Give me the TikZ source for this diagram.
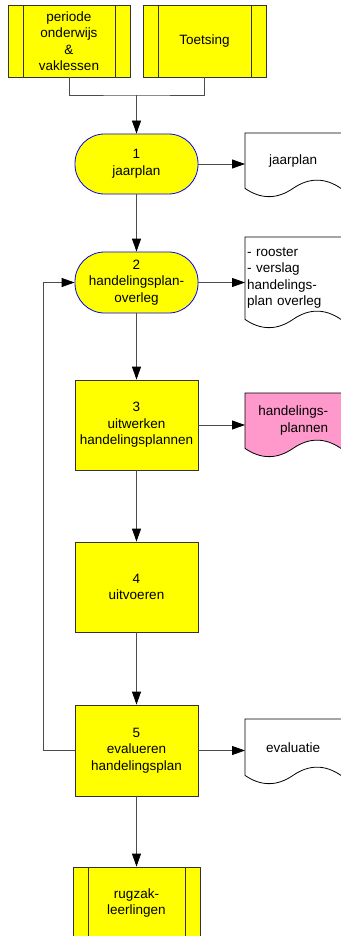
\documentclass[tikz,border=0pt]{standalone}
\usepackage{fontspec}
\setmainfont{Liberation Sans}
\usetikzlibrary{calc,arrows.meta,backgrounds}
\definecolor{planyellow}{HTML}{FFFF00}
\definecolor{planpink}{HTML}{FF99CC}
\definecolor{planblue}{HTML}{0000FF}
\def\docshape[#1](#2){\draw[#1] (#2.south west) .. controls +(16,11) and +(-16,11) .. ++(48,0) .. controls +(16,-11) and +(-16,-11) .. ++(48,0) -- ++(8,-3) -- ([xshift=8]#2.north east) -- (#2.north west) -- cycle;}
\tikzset{
	flow/.style={draw=black!80, line width=0.8pt, fill=planyellow, align=center, inner sep=2pt, font=\fontsize{13.5}{16.5}\selectfont},
	predef/.style={flow, path picture={
		\draw[black!80, line width=0.8pt] ([xshift=15]path picture bounding box.north west) -- ([xshift=15]path picture bounding box.south west);
		\draw[black!80, line width=0.8pt] ([xshift=-15]path picture bounding box.north east) -- ([xshift=-15]path picture bounding box.south east);}},
	stadium/.style={flow, draw=planblue, rounded corners=29.5pt},
	doc/.style={draw=none, anchor=north west, inner sep=2pt, font=\fontsize{13.5}{16.5}\selectfont},
	arr/.style={draw=black!70, line width=0.8pt, -{Triangle[length=13pt,width=9pt,color=black,fill=black]}},
	link/.style={draw=black!70, line width=0.8pt}
}
\begin{document}
\begin{tikzpicture}[x=1pt, y=-1pt]
		%%%%% START %%%%%
		\useasboundingbox (0,0) rectangle (340,936);
		
		\node[predef, minimum width=122, minimum height=72] (onderwijs) at (69,41) {periode\\onderwijs\\\&\\vaklessen};
		\node[predef, minimum width=123, minimum height=72] (toetsing) at (204.5,41) {Toetsing};
		\coordinate (join) at (136.5,95);
		
		\node[stadium, minimum width=123, minimum height=60] (jaarplan) at (136.5,164) {1\\jaarplan};
		\node[stadium, minimum width=123, minimum height=61] (overleg) at (136.5,282.5) {2\\handelingsplan-\\overleg};
		\node[flow, minimum width=123, minimum height=90] (uitwerken) at (136.5,425) {3\\uitwerken\\handelingsplannen};
		\node[flow, minimum width=123, minimum height=90] (uitvoeren) at (136.5,587) {4\\uitvoeren};
		\node[flow, minimum width=123, minimum height=91] (evalueren) at (136.5,750.5) {5\\evalueren\\handelingsplan};
		\node[predef, minimum width=127, minimum height=72] (rugzak) at (136.5,903) {rugzak-\\leerlingen};
		
		\node[doc, minimum width=96, minimum height=55] (djaarplan) at (245,133) {jaarplan};
		\node[doc, minimum width=96, minimum height=82, text width=92, align=left] (doverleg) at (245,237) {- rooster\\- verslag\\handelings-\\plan overleg};
		\node[doc, minimum width=96, minimum height=55, align=right] (dplannen) at (245,393) {handelings-\\plannen};
		\node[doc, minimum width=96, minimum height=56] (devaluatie) at (245,719) {evaluatie};
		
		\begin{pgfonlayer}{background}
			\docshape[draw=black, line width=0.8pt, fill=white](djaarplan);
			\docshape[draw=black, line width=0.8pt, fill=white](doverleg);
			\docshape[draw=black, line width=0.8pt, fill=planpink](dplannen);
			\docshape[draw=black, line width=0.8pt, fill=white](devaluatie);
		\end{pgfonlayer}
		
		\draw[link] (onderwijs.south) |- (join) -| (toetsing.south);
		\draw[arr] (join) -- (jaarplan.north);
		\draw[arr] (jaarplan) -- (overleg);
		\draw[arr] (overleg) -- (uitwerken);
		\draw[arr] (uitwerken) -- (uitvoeren);
		\draw[arr] (uitvoeren) -- (evalueren);
		\draw[arr] (evalueren) -- (rugzak);
		
		\draw[arr] (jaarplan.east) -- (jaarplan.east -| djaarplan.west);
		\draw[arr] (overleg.east) -- (overleg.east -| doverleg.west);
		\draw[arr] (uitwerken.east) -- (uitwerken.east -| dplannen.west);
		\draw[arr] (evalueren.east) -- (evalueren.east -| devaluatie.west);
		
		\coordinate (back) at (43,0);
		\draw[arr] (evalueren.west) -- (evalueren.west -| back) |- (overleg.west);
		
		%%%%% END %%%%%
	\end{tikzpicture}
\end{document}
